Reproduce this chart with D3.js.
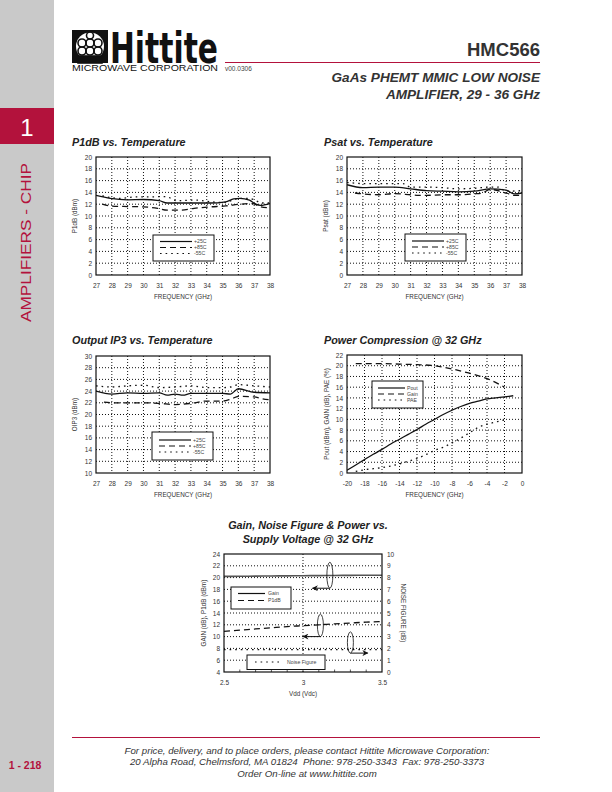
<!DOCTYPE html>
<html><head><meta charset="utf-8">
<script src="https://cdn.jsdelivr.net/npm/d3@7"></script>
<style>body{margin:0;background:#fff}svg{display:block}</style>
</head><body>
<svg id="c" width="612" height="792"></svg>
<script>
// ---------- DATA ----------
// P1dB vs Temperature
const p1dbF25 = [27,27.9,29,30,31,31.5,32.1,33.2,34.2,35.2,35.7,36.1,36.7,37.1,37.4,38];
const p1db25  = [13.5,13.0,12.75,12.8,12.6,12.2,12.2,12.2,12.2,12.4,12.9,13.0,12.7,12.0,11.8,12.1];
const p1dbF85 = [27.4,27.9,29,30,30.9,31.5,32.3,33.2,34.2,35.2,36.1,36.9,37.4,38];
const p1db85  = [12.0,11.7,11.6,11.55,11.3,11.0,11.0,11.3,11.55,11.7,12.0,12.1,11.55,11.4];
const p1dbFm55= [27.4,28.5,29.6,30.6,31.4,32.1,33.3,34.3,35.1,36.1,36.7,37.1,37.5,38];
const p1dbm55 = [13.4,13.0,13.25,13.25,13.3,12.6,12.7,12.4,12.3,13.0,13.0,12.6,12.2,12.2];
// Psat vs Temperature
const psatF25 = [27,28,29,30,31,32,33,34,35,36,37,37.5,38];
const psat25  = [15.3,14.8,14.9,14.9,14.6,14.3,14.2,14.1,14.2,14.6,14.4,13.75,13.9];
const psatF85 = [27.5,28,29,30,31,31.5,32,33,34,35,35.5,36,37,37.5,38];
const psat85  = [13.9,13.75,13.6,13.8,13.6,13.5,13.5,13.6,13.6,13.75,13.9,14.5,13.9,13.5,13.5];
const psatFm55= [27,28,29,30,30.5,31,32,33,34,35,36,36.5,37,38];
const psatm55 = [15.7,15.5,15.5,15.5,15.5,14.9,14.9,14.8,14.6,14.7,14.9,14.9,14.2,14.3];
// Output IP3 vs Temperature
const ip3F25 = [27,28,29,30,31,31.5,32,32.5,33,34,35,35.5,36,37,38];
const ip325  = [24.0,23.5,23.7,23.6,23.7,23.3,23.5,23.3,23.6,23.6,23.6,23.5,24.4,23.8,23.7];
const ip3F85 = [27.5,28,29,30,31,32,33,34,35,35.5,36,37,37.5,38];
const ip385  = [22.1,22.0,22.0,22.0,21.9,21.7,21.9,22.3,22.3,22.6,23.1,23.0,22.7,22.5];
const ip3Fm55= [27,28,29,30,31,32,33,34,35,35.5,36,37,38];
const ip3m55 = [24.9,24.7,24.9,25.0,24.6,24.7,24.9,24.6,24.6,24.7,25.1,24.9,24.7];
// Power compression @ 32 GHz
const pcIn   = [-20,-19,-18,-17,-16,-15,-14,-13,-12,-11,-10,-9,-8,-7,-6,-5,-4,-3,-2,-1];
const pcPout = [0.5,1.5,2.5,3.5,4.4,5.4,6.3,7.2,8.1,9.1,10.0,10.9,11.7,12.4,13.0,13.4,13.8,14.0,14.2,14.4];
const pcGainIn = [-19,-18,-16,-14,-12,-10,-8,-6,-4,-2];
const pcGain = [20.4,20.4,20.4,20.3,20.2,20.0,19.4,18.6,17.6,16.0];
const pcPaeIn= [-19,-18,-17,-16,-15,-14,-13,-12,-11,-10,-9,-8,-7,-6,-5,-4,-3,-2];
const pcPae  = [0.3,0.6,0.8,1.0,1.3,1.7,2.2,2.7,3.4,4.2,4.8,5.6,6.5,7.5,8.5,9.1,9.5,9.9];
// Gain, NF, Power vs supply voltage @ 32 GHz
const vdd    = [2.5,2.6,2.7,2.8,2.9,3.0,3.1,3.2,3.3,3.4,3.5];
const vGain  = [20.2,20.22,20.25,20.27,20.3,20.32,20.34,20.36,20.38,20.39,20.4];
const vP1db  = [10.9,11.1,11.3,11.5,11.7,11.85,12.0,12.15,12.3,12.45,12.55];
const vNF    = [1.9,1.9,1.9,1.9,1.9,1.9,1.9,1.9,1.9,1.9,1.9];
// tick labels
const freqTicks = [27,28,29,30,31,32,33,34,35,36,37,38];
const tick0to20 = [0,2,4,6,8,10,12,14,16,18,20];
const tick10to30 = [10,12,14,16,18,20,22,24,26,28,30];
const tick0to22 = [0,2,4,6,8,10,12,14,16,18,20,22];
const pinTicks = [-20,-18,-16,-14,-12,-10,-8,-6,-4,-2,0];
const vddTicks = [2.5,3,3.5];
const leftTicks5 = [4,6,8,10,12,14,16,18,20,22,24];
const rightTicks5 = [0,1,2,3,4,5,6,7,8,9,10];
const tempLabels = ["+25C","+85C","-55C"];
const pcLabels = ["Pout","Gain","PAE"];

// ---------- DRAW ----------
const svg = d3.select("#c");
const RED = "#b3123c";
const F = "'Liberation Sans', Arial, sans-serif";
const DASH = {solid:null, dash:"6,4", dot:"1.6,4"};
const fmt = d => String(d);

// Sidebar
svg.append("rect").attr("x",0).attr("y",0).attr("width",54).attr("height",792).attr("fill","#c9c9c9");
svg.append("rect").attr("x",0).attr("y",108).attr("width",54).attr("height",36).attr("fill",RED);
svg.append("text").attr("x",27).attr("y",136).attr("text-anchor","middle").attr("font-family",F)
  .attr("font-size",24).attr("fill","#fff").text("1");
svg.append("text").attr("transform","translate(31,242.5) rotate(-90)").attr("text-anchor","middle")
  .attr("font-family",F).attr("font-size",14).attr("fill",RED).attr("textLength",159)
  .attr("lengthAdjust","spacingAndGlyphs").text("AMPLIFIERS - CHIP");
svg.append("text").attr("x",25).attr("y",769).attr("text-anchor","middle").attr("font-family",F)
  .attr("font-size",10.5).attr("font-weight","bold").attr("fill",RED).text("1 - 218");

// Logo
const lg = svg.append("g");
lg.append("rect").attr("x",72).attr("y",30).attr("width",36).attr("height",33).attr("fill","#111");
lg.append("circle").attr("cx",90).attr("cy",46.5).attr("r",14).attr("fill","#fff");
const lat = lg.append("g").attr("stroke","#111").attr("stroke-width",1.6).attr("fill","none");
[-8,0,8].forEach(o=>{
  lat.append("circle").attr("cx",90+o).attr("cy",43).attr("r",4);
  lat.append("circle").attr("cx",90+o).attr("cy",51).attr("r",4);
});
lat.append("circle").attr("cx",90).attr("cy",35.5).attr("r",3.5);
lat.append("rect").attr("x",78).attr("y",56).attr("width",24).attr("height",7).attr("fill","#111");
const SY = 1.45;
const logoT = lg.append("text").attr("transform",`scale(1,${SY})`).attr("fill","#111");
logoT.append("tspan").attr("x",110).attr("y",63/SY).attr("font-family","'DejaVu Sans', sans-serif")
  .attr("font-weight","bold").attr("font-size",29.5).attr("textLength",108)
  .attr("lengthAdjust","spacingAndGlyphs").text("Hittite");
logoT.append("tspan").attr("x",72).attr("y",71.5/SY).attr("font-family",F).attr("font-size",9.2/SY)
  .attr("textLength",146).attr("lengthAdjust","spacingAndGlyphs").text("MICROWAVE CORPORATION");
svg.append("text").attr("x",225).attr("y",71).attr("font-family",F).attr("font-size",6.5).attr("fill","#444").text("v00.0306");
svg.append("line").attr("x1",225).attr("x2",540).attr("y1",62.5).attr("y2",62.5).attr("stroke",RED).attr("stroke-width",1.2);
svg.append("text").attr("x",540).attr("y",56).attr("text-anchor","end").attr("font-family",F)
  .attr("font-weight","bold").attr("font-size",18.5).attr("fill","#333").text("HMC566");
svg.append("text").attr("x",540).attr("y",82).attr("text-anchor","end").attr("font-family",F)
  .attr("font-weight","bold").attr("font-style","italic").attr("font-size",13.6).attr("fill","#333").text("GaAs PHEMT MMIC LOW NOISE");
svg.append("text").attr("x",540).attr("y",99).attr("text-anchor","end").attr("font-family",F)
  .attr("font-weight","bold").attr("font-style","italic").attr("font-size",13.6).attr("fill","#333").text("AMPLIFIER, 29 - 36 GHz");

// Footer
svg.append("line").attr("x1",72).attr("x2",540).attr("y1",737.5).attr("y2",737.5).attr("stroke",RED).attr("stroke-width",1);
["For price, delivery, and to place orders, please contact Hittite Microwave Corporation:",
 "20 Alpha Road, Chelmsford, MA 01824  Phone: 978-250-3343  Fax: 978-250-3373",
 "Order On-line at www.hittite.com"].forEach((t,i)=>{
  svg.append("text").attr("x",307).attr("y",753.5+i*11.5).attr("text-anchor","middle").attr("font-family",F)
    .attr("font-style","italic").attr("font-size",9.7).attr("fill","#333").attr("xml:space","preserve").text(t);
});

function title(x,y,t,anchor){
  svg.append("text").attr("x",x).attr("y",y).attr("text-anchor",anchor||"start").attr("font-family",F)
    .attr("font-weight","bold").attr("font-style","italic").attr("font-size",10.8).attr("fill","#222").text(t);
}

function chart(o){
  const g = svg.append("g");
  const x = d3.scaleLinear().domain(o.xd).range([o.x0,o.x1]);
  const y = d3.scaleLinear().domain(o.yd).range([o.y1,o.y0]);
  const gg = g.append("g").attr("stroke","#111").attr("stroke-width",1).attr("stroke-dasharray","1,2");
  (o.xGrid||[]).forEach(v=>gg.append("line").attr("x1",x(v)).attr("x2",x(v)).attr("y1",o.y0).attr("y2",o.y1));
  const yg = o.yGridScale || y;
  (o.yGrid||[]).forEach(v=>gg.append("line").attr("x1",o.x0).attr("x2",o.x1).attr("y1",yg(v)).attr("y2",yg(v)));
  const xa = g.append("g").attr("transform",`translate(0,${o.y1})`)
    .call(d3.axisBottom(x).tickValues(o.xt).tickSize(0).tickPadding(8).tickFormat(fmt));
  const ya = g.append("g").attr("transform",`translate(${o.x0},0)`)
    .call(d3.axisLeft(y).tickValues(o.yt).tickSize(0).tickPadding(4).tickFormat(fmt));
  [xa,ya].forEach(a=>{a.select(".domain").remove();
    a.selectAll("text").attr("font-family",F).attr("font-size",6.5).attr("fill","#333");});
  if(o.minor){ o.minor.forEach(v=>g.append("line").attr("x1",x(v)).attr("x2",x(v)).attr("y1",o.y1).attr("y2",o.y1-2.5).attr("stroke","#111").attr("stroke-width",0.7)); }
  g.append("text").attr("x",(o.x0+o.x1)/2).attr("y",o.y1+23.5).attr("text-anchor","middle").attr("font-family",F)
    .attr("font-size",6.3).attr("fill","#333").text(o.xl);
  g.append("text").attr("transform",`translate(${o.ylx},${(o.y0+o.y1)/2}) rotate(-90)`).attr("text-anchor","middle")
    .attr("font-family",F).attr("font-size",6.3).attr("fill","#333").text(o.yl);
  const clipId = "clip"+Math.round(o.x0)+"_"+Math.round(o.y0);
  svg.append("clipPath").attr("id",clipId).append("rect").attr("x",o.x0).attr("y",o.y0).attr("width",o.x1-o.x0).attr("height",o.y1-o.y0);
  const sg = g.append("g").attr("clip-path",`url(#${clipId})`);
  o.series.forEach(s=>{
    const ys = s.scale || y;
    const line = d3.line().x((d,i)=>x(s.x[i])).y(d=>ys(d)).curve(d3.curveMonotoneX);
    sg.append("path").attr("d",line(s.y)).attr("fill","none").attr("stroke",s.color||"#111")
      .attr("stroke-width",s.w||1.3).attr("stroke-dasharray",DASH[s.style]);
  });
  g.append("rect").attr("x",o.x0).attr("y",o.y0).attr("width",o.x1-o.x0).attr("height",o.y1-o.y0)
    .attr("fill","none").attr("stroke","#111").attr("stroke-width",1.2);
  return {x,y,g};
}

function legend(bx,by,bw,bh,entries,lx0,lx1,tx,rows,fs){
  const g = svg.append("g");
  g.append("rect").attr("x",bx).attr("y",by).attr("width",bw).attr("height",bh).attr("fill","#fff")
    .attr("stroke","#111").attr("stroke-width",1);
  entries.forEach((e,i)=>{
    g.append("line").attr("x1",lx0).attr("x2",lx1).attr("y1",rows[i]).attr("y2",rows[i]).attr("stroke","#111")
      .attr("stroke-width",1.2).attr("stroke-dasharray",DASH[e.style]);
    g.append("text").attr("x",tx).attr("y",rows[i]+1.8).attr("font-family",F).attr("font-size",fs||5.2)
      .attr("fill","#444").text(e.label);
  });
}
const tempStyles = ["solid","dash","dot"];

// Chart 1: P1dB
title(72,146,"P1dB vs. Temperature");
chart({x0:96,x1:270,y0:157,y1:275,xd:[27,38],yd:[0,20],xt:freqTicks,yt:tick0to20,
  xGrid:freqTicks.slice(1,-1),yGrid:tick0to20.slice(1,-1),xl:"FREQUENCY (GHz)",yl:"P1dB (dBm)",ylx:77,
  series:[{x:p1dbF25,y:p1db25,style:"solid"},{x:p1dbF85,y:p1db85,style:"dash"},{x:p1dbFm55,y:p1dbm55,style:"dot"}]});
legend(153,235,61,26,tempLabels.map((l,i)=>({label:l,style:tempStyles[i]})),160,192,194,[241.5,247.5,253.5]);

// Chart 2: Psat
title(324,146,"Psat vs. Temperature");
chart({x0:347,x1:522,y0:157,y1:275,xd:[27,38],yd:[0,20],xt:freqTicks,yt:tick0to20,
  xGrid:freqTicks.slice(1,-1),yGrid:tick0to20.slice(1,-1),xl:"FREQUENCY (GHz)",yl:"Psat (dBm)",ylx:328,
  series:[{x:psatF25,y:psat25,style:"solid"},{x:psatF85,y:psat85,style:"dash"},{x:psatFm55,y:psatm55,style:"dot"}]});
legend(405,234,61,27,tempLabels.map((l,i)=>({label:l,style:tempStyles[i]})),412,444,446,[241,247,253]);

// Chart 3: OIP3
title(72,344,"Output IP3 vs. Temperature");
chart({x0:96,x1:270,y0:356,y1:473,xd:[27,38],yd:[10,30],xt:freqTicks,yt:tick10to30,
  xGrid:freqTicks.slice(1,-1),yGrid:tick10to30.slice(1,-1),xl:"FREQUENCY (GHz)",yl:"OIP3 (dBm)",ylx:77,
  series:[{x:ip3F25,y:ip325,style:"solid"},{x:ip3F85,y:ip385,style:"dash"},{x:ip3Fm55,y:ip3m55,style:"dot"}]});
legend(152,432,61,28,tempLabels.map((l,i)=>({label:l,style:tempStyles[i]})),159,191,193,[440,446,452]);

// Chart 4: Power compression
title(324,344,"Power Compression @ 32 GHz");
chart({x0:347,x1:522,y0:355,y1:473,xd:[-20,0],yd:[0,22],xt:pinTicks,yt:tick0to22,
  xGrid:pinTicks.slice(1,-1),yGrid:tick0to22.slice(1,-1),xl:"FREQUENCY (GHz)",yl:"Pout (dBm), GAIN (dB), PAE (%)",ylx:329,
  series:[{x:pcIn,y:pcPout,style:"solid"},{x:pcGainIn,y:pcGain,style:"dash"},{x:pcPaeIn,y:pcPae,style:"dot"}]});
legend(372,381,51,27,pcLabels.map((l,i)=>({label:l,style:tempStyles[i]})),378,405,407,[388,394,400]);

// Chart 5: Gain, NF & Power vs supply voltage
title(308,529,"Gain, Noise Figure & Power vs.","middle");
title(308,543,"Supply Voltage @ 32 GHz","middle");
const yR = d3.scaleLinear().domain([0,10]).range([672,554]);
const c5 = chart({x0:224,x1:382,y0:554,y1:672,xd:[2.5,3.5],yd:[4,24],xt:vddTicks,yt:leftTicks5,
  xGrid:[3],yGrid:rightTicks5.slice(1,-1),yGridScale:yR,xl:"Vdd (Vdc)",yl:"GAIN (dB), P1dB (dBm)",ylx:206,
  minor:d3.range(1,10).map(i=>2.5+i*0.1),
  series:[{x:vdd,y:vGain,style:"solid",color:"#555",w:1.6},{x:vdd,y:vP1db,style:"dash"},{x:vdd,y:vNF,style:"dot",scale:yR}]});
const ra = svg.append("g").attr("transform","translate(382,0)")
  .call(d3.axisRight(yR).tickValues(rightTicks5).tickSize(0).tickPadding(5).tickFormat(fmt));
ra.select(".domain").remove();
ra.selectAll("text").attr("font-family",F).attr("font-size",6.5).attr("fill","#333");
svg.append("text").attr("transform",`translate(401,613) rotate(90)`).attr("text-anchor","middle")
  .attr("font-family",F).attr("font-size",6.3).attr("fill","#333").text("NOISE FIGURE (dB)");
legend(231,587,60,22,[{label:"Gain",style:"solid"},{label:"P1dB",style:"dash"}],238,265,268,[593.5,600.5]);
legend(247,655,78,14.5,[{label:"Noise Figure",style:"dot"}],255,283,287,[662]);
svg.append("defs").append("marker").attr("id","ah").attr("viewBox","0 0 10 10").attr("refX",9).attr("refY",5)
  .attr("markerWidth",9).attr("markerHeight",6).attr("orient","auto")
  .append("path").attr("d","M0,0 L10,5 L0,10 L3,5 Z").attr("fill","#111");
const ann = [
  {v:3.17, yc:20.4, yb:18.2, to:3.06, sc:c5.y},
  {v:3.11, yc:11.9, yb:10.0, to:3.00, sc:c5.y},
  {v:3.30, yc:2.5,  yb:1.6,  to:3.41, sc:yR}
];
ann.forEach(a=>{
  const cx=c5.x(a.v), cy=a.sc(a.yc), by=a.sc(a.yb);
  svg.append("ellipse").attr("cx",cx).attr("cy",cy).attr("rx",3).attr("ry",by-cy)
    .attr("fill","none").attr("stroke","#111").attr("stroke-width",0.8);
  svg.append("line").attr("x1",cx).attr("x2",c5.x(a.to)).attr("y1",by).attr("y2",by)
    .attr("stroke","#111").attr("stroke-width",1).attr("marker-end","url(#ah)");
});
</script>
</body></html>
